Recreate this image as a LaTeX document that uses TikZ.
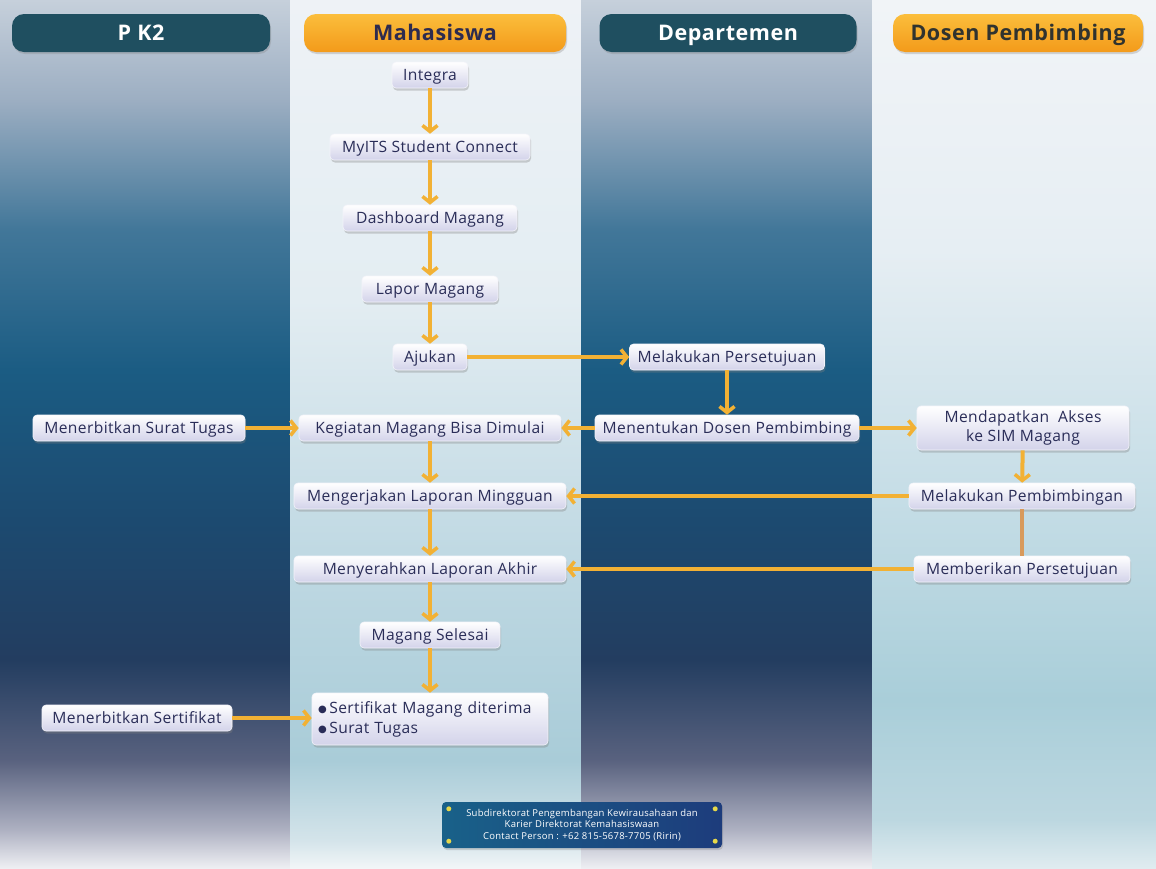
\documentclass[tikz,border=0pt]{standalone}
\usepackage{fontspec}
\setmainfont{Open Sans}[LetterSpace=2.5]
\newfontfamily\dejavu{DejaVu Sans}
\usetikzlibrary{arrows.meta,shadows}
\definecolor{aA}{HTML}{C6D0DB}\definecolor{aB}{HTML}{9CAEC2}\definecolor{aC}{HTML}{427799}
\definecolor{aD}{HTML}{1B5C83}\definecolor{aE}{HTML}{1C4A70}\definecolor{aF}{HTML}{233D60}
\definecolor{aG}{HTML}{59627F}\definecolor{aH}{HTML}{AEB1C2}\definecolor{aI}{HTML}{EEEFF3}
\definecolor{bA}{HTML}{EEF2F6}\definecolor{bB}{HTML}{E3EDF2}\definecolor{bC}{HTML}{C0D9E3}
\definecolor{bD}{HTML}{A9CCD8}\definecolor{bE}{HTML}{D4E4EA}\definecolor{bF}{HTML}{F2F6F8}
\definecolor{dA}{HTML}{F1F4F7}\definecolor{dB}{HTML}{E6EEF3}\definecolor{dC}{HTML}{C5DDE6}
\definecolor{dD}{HTML}{A9CED9}\definecolor{dE}{HTML}{BCD7E0}\definecolor{dF}{HTML}{E0ECF0}
\definecolor{arrowc}{HTML}{F2B134}
\definecolor{linkc}{HTML}{D89A5C}
\definecolor{boxtext}{HTML}{2A2D58}
\definecolor{boxbot}{HTML}{D3D3EA}
\definecolor{headdark}{HTML}{1F4F60}
\definecolor{headtop}{HTML}{FBBE3C}
\definecolor{headbot}{HTML}{F39A1A}
\definecolor{headtext}{HTML}{2D2B4F}
\definecolor{headtextB}{HTML}{30332F}
\definecolor{footL}{HTML}{196189}
\definecolor{footR}{HTML}{1D3C7C}
\definecolor{dotc}{HTML}{E6D84A}
\pgfdeclareverticalshading{darkcol}{100bp}{color(0bp)=(aI); color(25bp)=(aI); color(27.2bp)=(aH); color(31.2bp)=(aG); color(37bp)=(aF); color(45bp)=(aE); color(53.7bp)=(aD); color(61.8bp)=(aC); color(69.2bp)=(aB); color(75bp)=(aA); color(100bp)=(aA)}
\pgfdeclareverticalshading{lightcolA}{100bp}{color(0bp)=(bF); color(25bp)=(bF); color(26.6bp)=(bE); color(31.2bp)=(bD); color(43.3bp)=(bC); color(57.7bp)=(bB); color(75bp)=(bA); color(100bp)=(bA)}
\pgfdeclareverticalshading{lightcolB}{100bp}{color(0bp)=(dF); color(25bp)=(dF); color(27.8bp)=(dE); color(34.7bp)=(dD); color(46.2bp)=(dC); color(60.6bp)=(dB); color(75bp)=(dA); color(100bp)=(dA)}
\newcommand{\bul}{{\dejavu\fontsize{10}{10}\selectfont\raisebox{0.5pt}{●}}\,}
\tikzset{
  boxbase/.style={rounded corners=4pt, top color=white, bottom color=boxbot, draw=white!75!boxbot,
    line width=0.6pt, text=boxtext, font=\fontsize{15.6}{19}\selectfont, minimum height=26pt,
    inner sep=0pt, drop shadow={opacity=0.35,shadow xshift=1pt,shadow yshift=-2.5pt}},
  box/.style={boxbase, text height=11.5pt, text depth=0.5pt},
  headdk/.style={rounded corners=12pt, fill=headdark, text=white, font=\bfseries\fontsize{21.5}{25}\selectfont,
    minimum height=38pt, inner sep=0pt, text height=15pt, text depth=1pt,
    drop shadow={opacity=0.3,shadow xshift=1pt,shadow yshift=-2pt}},
  heador/.style={rounded corners=12pt, top color=headtop, bottom color=headbot, text=headtext,
    font=\bfseries\fontsize{21.5}{25}\selectfont, minimum height=38pt, inner sep=0pt,
    text height=15pt, text depth=1pt,
    drop shadow={opacity=0.3,shadow xshift=1pt,shadow yshift=-2pt}},
  flow/.style={draw=arrowc, line width=4pt, -{Straight Barb[length=6pt,width=15pt,line width=3.5pt]}},
  plain/.style={draw=linkc, line width=3.5pt},
  dotmark/.style={circle, fill=dotc, minimum size=5pt, inner sep=0pt}
}
\begin{document}
\begin{tikzpicture}[x=1pt,y=-1pt]
\useasboundingbox (0,0) rectangle (1156,868);
% background columns
\fill[shading=darkcol] (0,0) rectangle (290,868);
\fill[shading=lightcolA] (290,0) rectangle (581,868);
\fill[shading=darkcol] (581,0) rectangle (872,868);
\fill[shading=lightcolB] (872,0) rectangle (1156,868);
% headers
\node[headdk, minimum width=258pt] (hpk) at (141,33) {P K2};
\node[heador, minimum width=262pt] (hmhs) at (435,33) {Mahasiswa};
\node[headdk, minimum width=257pt] (hdep) at (728,33) {Departemen};
\node[heador, minimum width=250pt, text=headtextB] (hdos) at (1018,33) {Dosen Pembimbing};
% Mahasiswa column
\node[box, minimum width=76pt] (int) at (430,75) {Integra};
\node[box, minimum width=200pt] (myits) at (430,147) {MyITS Student Connect};
\node[box, minimum width=174pt] (dash) at (430,218) {Dashboard Magang};
\node[box, minimum width=136pt] (lapor) at (430,289) {Lapor Magang};
\node[box, minimum width=74pt] (ajukan) at (430,357) {Ajukan};
\node[box, minimum width=262pt] (kegiatan) at (430,428) {Kegiatan Magang Bisa Dimulai};
\node[box, minimum width=272pt] (mingguan) at (430,496) {Mengerjakan Laporan Mingguan};
\node[box, minimum width=272pt] (akhir) at (430,569) {Menyerahkan Laporan Akhir};
\node[box, minimum width=140pt] (selesai) at (430,635) {Magang Selesai};
\node[boxbase, minimum width=236pt, minimum height=52pt, align=left, text width=224pt,
      font=\fontsize{15.6}{20}\selectfont] (sertifikat) at (430,719)
  {\bul Sertifikat Magang diterima\\\bul Surat Tugas};
% Departemen column
\node[box, minimum width=195pt] (persetujuan) at (727,357) {Melakukan Persetujuan};
\node[box, minimum width=264pt] (menentukan) at (727,428) {Menentukan Dosen Pembimbing};
% PK2 column
\node[box, minimum width=212pt] (surat) at (139,428) {Menerbitkan Surat Tugas};
\node[box, minimum width=190pt] (terbit) at (137,718) {Menerbitkan Sertifikat};
% Dosen column
\node[boxbase, minimum width=212pt, minimum height=44pt, align=center, font=\fontsize{15.6}{19}\selectfont] (akses) at (1023,428) {Mendapatkan\ \ Akses\\ke SIM Magang};
\node[box, minimum width=226pt] (bimbing) at (1022,496) {Melakukan Pembimbingan};
\node[box, minimum width=216pt] (beri) at (1022,569) {Memberikan Persetujuan};
% footer
\node[rounded corners=4pt, left color=footL, right color=footR, minimum width=280pt, minimum height=46pt,
      text=white, align=center, font=\fontsize{9.5}{11.5}\selectfont, inner sep=0pt,
      drop shadow={opacity=0.3,shadow xshift=1pt,shadow yshift=-2pt}] (foot) at (582,825)
  {Subdirektorat Pengembangan Kewirausahaan dan\\Karier Direktorat Kemahasiswaan\\Contact Person : +62 815-5678-7705 (Ririn)};
\node[dotmark] (d1) at ([xshift=7pt,yshift=-7pt]foot.north west) {};
\node[dotmark] (d2) at ([xshift=-7pt,yshift=-7pt]foot.north east) {};
\node[dotmark] (d3) at ([xshift=7pt,yshift=7pt]foot.south west) {};
\node[dotmark] (d4) at ([xshift=-7pt,yshift=7pt]foot.south east) {};
% connectors
\draw[flow] (int) -- (myits);
\draw[flow] (myits) -- (dash);
\draw[flow] (dash) -- (lapor);
\draw[flow] (lapor) -- (ajukan);
\draw[flow] (ajukan) -- (persetujuan);
\draw[flow] (persetujuan) -- (menentukan);
\draw[flow] (menentukan) -- (kegiatan);
\draw[flow] (menentukan) -- (akses);
\draw[flow] (surat) -- (kegiatan);
\draw[flow] (kegiatan) -- (mingguan);
\draw[flow] (akses) -- (bimbing);
\draw[flow] (bimbing) -- (mingguan);
\draw[plain] (bimbing) -- (beri);
\draw[flow] (mingguan) -- (akhir);
\draw[flow] (beri) -- (akhir);
\draw[flow] (akhir) -- (selesai);
\draw[flow] (selesai) -- (sertifikat);
\draw[flow] (terbit) -- (terbit -| sertifikat.west);
\end{tikzpicture}
\end{document}
